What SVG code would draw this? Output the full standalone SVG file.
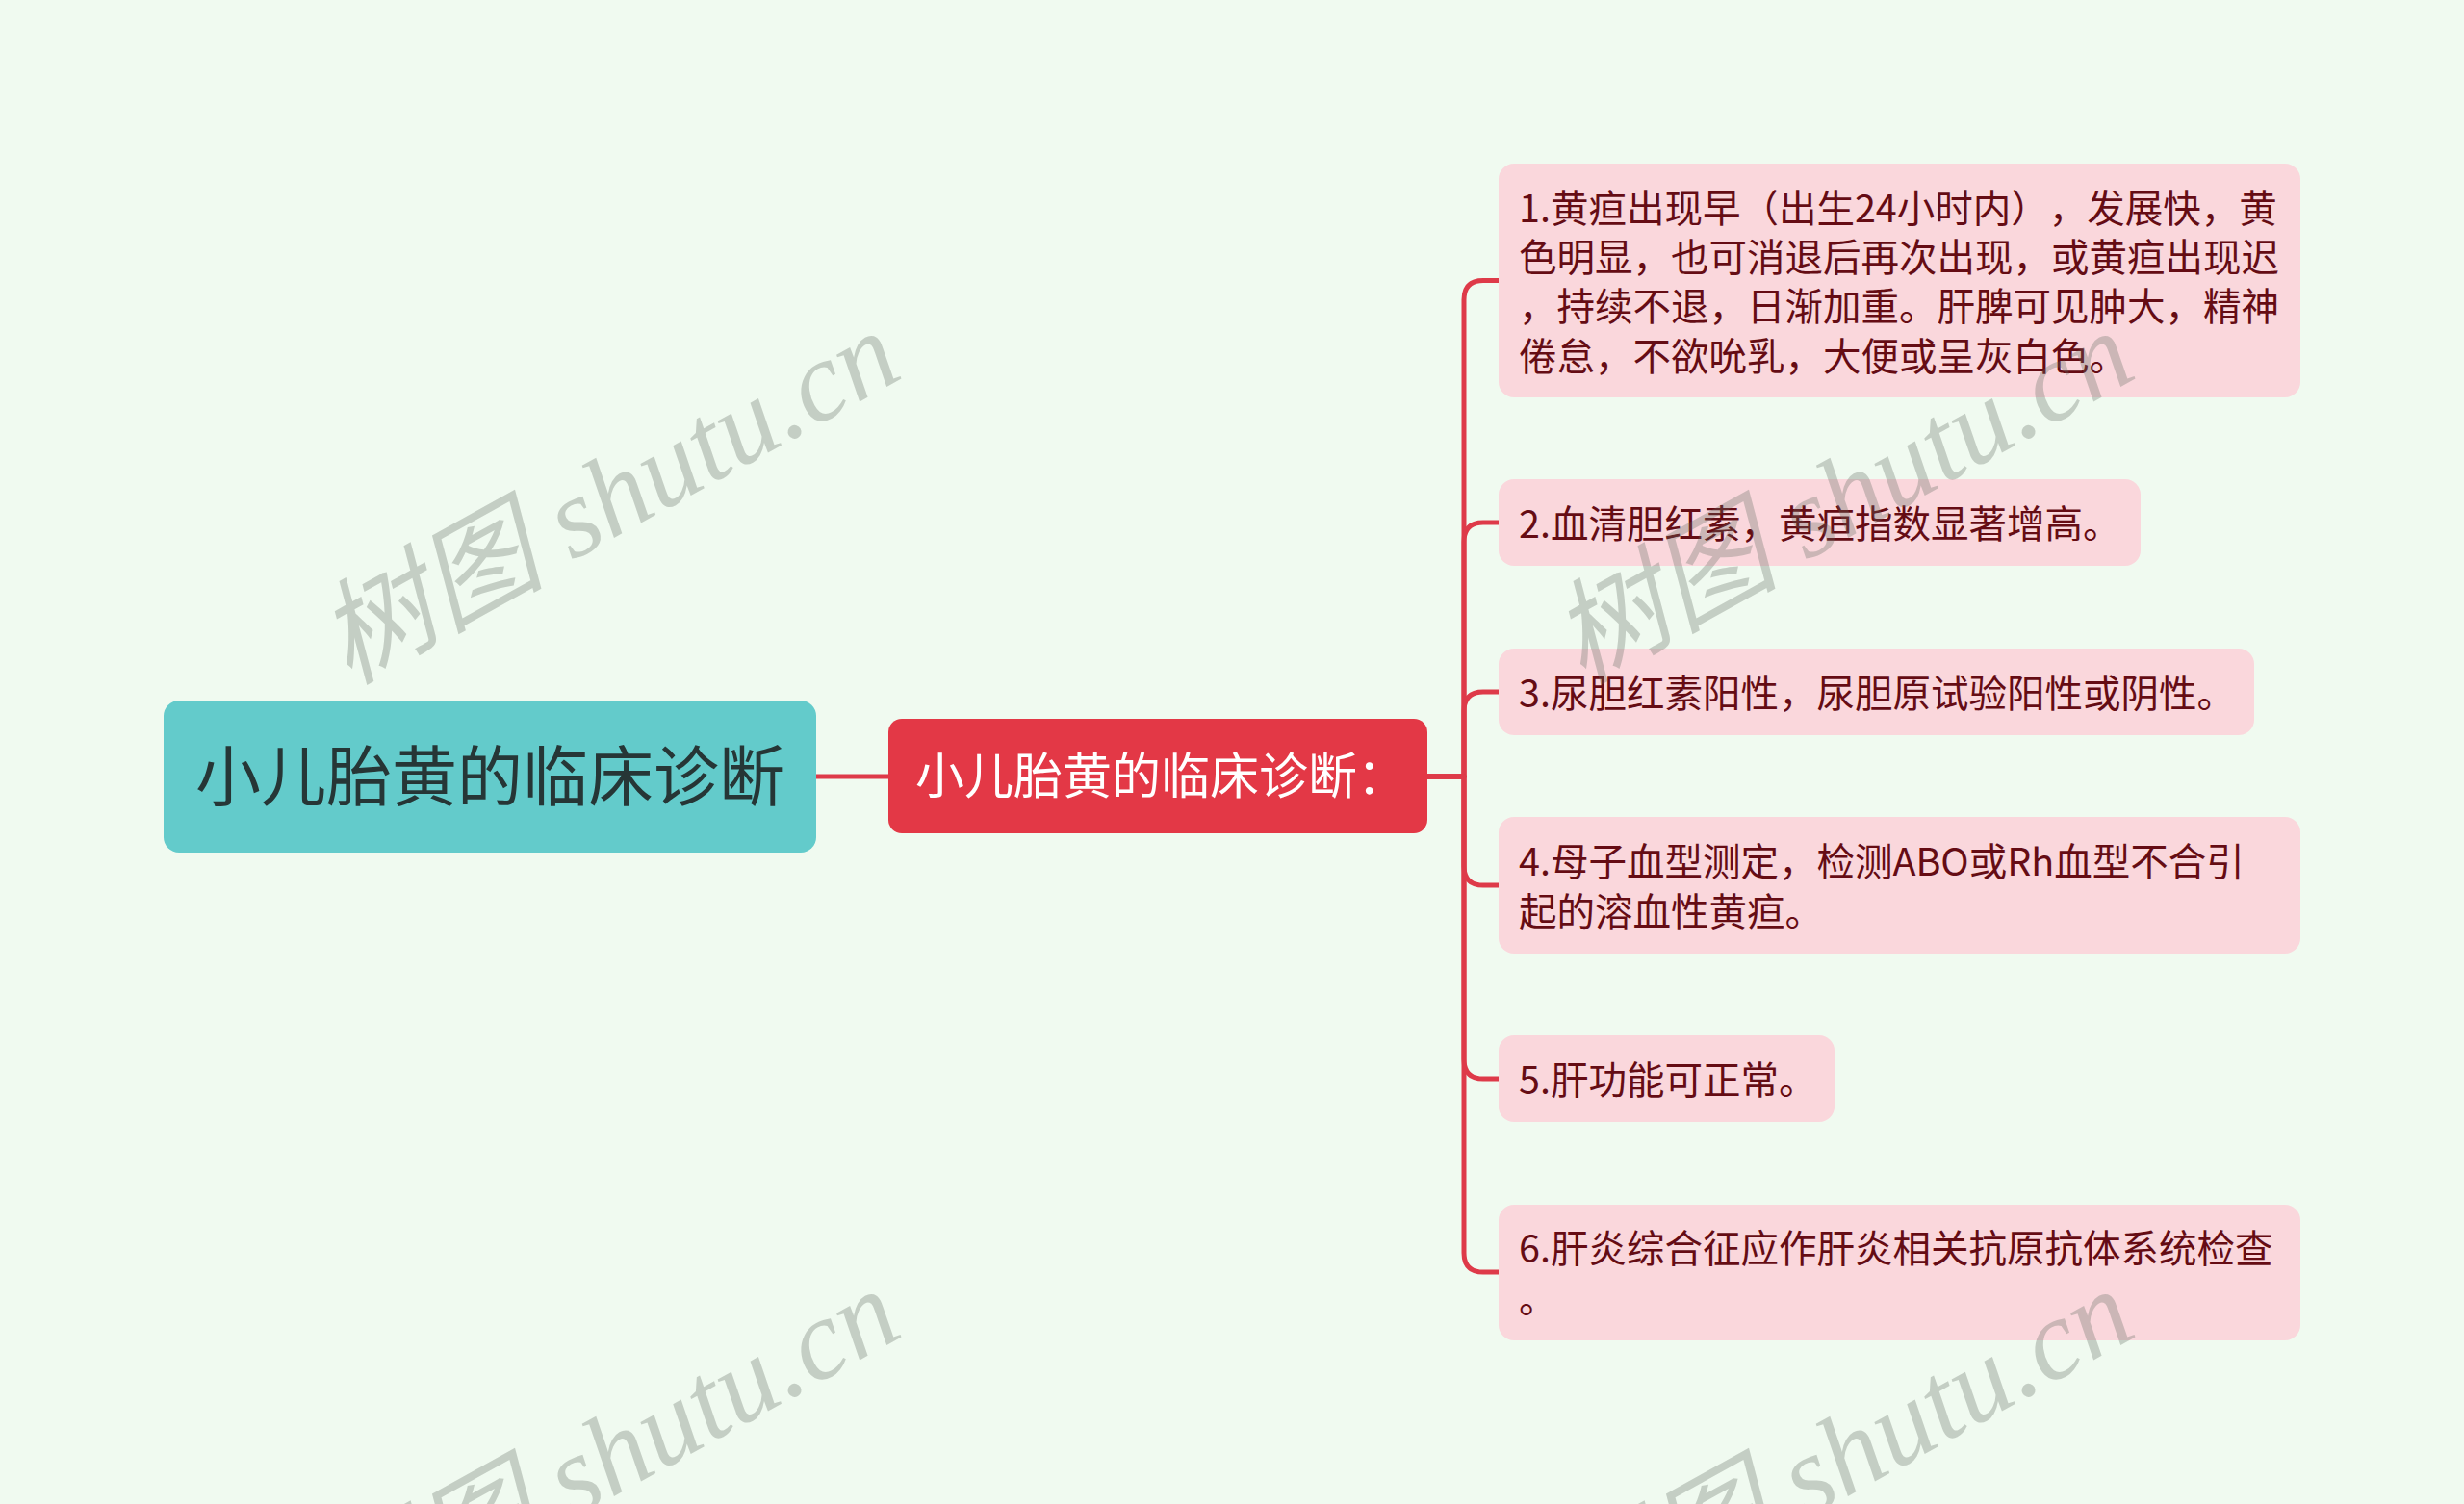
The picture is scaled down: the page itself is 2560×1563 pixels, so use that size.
<svg xmlns="http://www.w3.org/2000/svg" width="2560" height="1563" viewBox="0 0 2560 1563">
<style>
.bg{fill:#F0FAF0}
.link{fill:none;stroke:#DE3A49;stroke-width:5;stroke-linejoin:round}
.root rect{fill:#63CBCB}
.root text{fill:#263636;font-size:68px}
.mid rect{fill:#E33846}
.mid text{fill:#FFFFFF;font-size:51px}
.leaf rect{fill:#FAD7DC}
.leaf text{fill:#650C14;font-size:39.5px}
text{font-family:"Noto Sans CJK SC","Noto Sans",sans-serif;text-spacing-trim:space-all}
.wm{font-family:"Liberation Serif","Noto Sans CJK SC",serif;font-style:italic;font-size:118px;fill:#5f6a5f;fill-opacity:0.3}
</style>
<rect class="bg" x="0" y="0" width="2560" height="1563"/>
<g id="connectors">
<path class="link" d="M848 807 H923"/>
<path class="link" d="M1483 807 H1521 V311.5 Q1521 291.5 1541 291.5 H1557"/>
<path class="link" d="M1483 807 H1521 V563 Q1521 543 1541 543 H1557"/>
<path class="link" d="M1483 807 H1521 V739 Q1521 719 1541 719 H1557"/>
<path class="link" d="M1483 807 H1521 V900 Q1521 920 1541 920 H1557"/>
<path class="link" d="M1483 807 H1521 V1101 Q1521 1121 1541 1121 H1557"/>
<path class="link" d="M1483 807 H1521 V1302 Q1521 1322 1541 1322 H1557"/>
</g>
<g id="root" class="root">
<rect x="170" y="728" width="678" height="158" rx="16"/>
<text x="509" y="832" text-anchor="middle">小儿胎黄的临床诊断</text>
</g>
<g id="mid" class="mid">
<rect x="923" y="747" width="560" height="119" rx="14"/>
<text x="951" y="825">小儿胎黄的临床诊断：</text>
</g>
<g id="leaf1" class="leaf">
<rect x="1557" y="170" width="833" height="243" rx="16"/>
<text x="1578" y="231">1.黄疸出现早（出生24小时内），发展快，黄</text>
<text x="1578" y="282">色明显，也可消退后再次出现，或黄疸出现迟</text>
<text x="1578" y="333">，持续不退，日渐加重。肝脾可见肿大，精神</text>
<text x="1578" y="385">倦怠，不欲吮乳，大便或呈灰白色。</text>
</g>
<g id="leaf2" class="leaf">
<rect x="1557" y="498" width="667" height="90" rx="16"/>
<text x="1578" y="559">2.血清胆红素，黄疸指数显著增高。</text>
</g>
<g id="leaf3" class="leaf">
<rect x="1557" y="674" width="785" height="90" rx="16"/>
<text x="1578" y="735">3.尿胆红素阳性，尿胆原试验阳性或阴性。</text>
</g>
<g id="leaf4" class="leaf">
<rect x="1557" y="849" width="833" height="142" rx="16"/>
<text x="1578" y="910">4.母子血型测定，检测ABO或Rh血型不合引</text>
<text x="1578" y="962">起的溶血性黄疸。</text>
</g>
<g id="leaf5" class="leaf">
<rect x="1557" y="1076" width="349" height="90" rx="16"/>
<text x="1578" y="1137">5.肝功能可正常。</text>
</g>
<g id="leaf6" class="leaf">
<rect x="1557" y="1252" width="833" height="141" rx="16"/>
<text x="1578" y="1312">6.肝炎综合征应作肝炎相关抗原抗体系统检查</text>
<text x="1578" y="1364">。</text>
</g>
<g id="watermarks">
<text class="wm" x="362" y="712" transform="rotate(-29 362 712)">树图 shutu.cn</text>
<text class="wm" x="1644" y="712" transform="rotate(-29 1644 712)">树图 shutu.cn</text>
<text class="wm" x="362" y="1708" transform="rotate(-29 362 1708)">树图 shutu.cn</text>
<text class="wm" x="1644" y="1708" transform="rotate(-29 1644 1708)">树图 shutu.cn</text>
</g>
</svg>
